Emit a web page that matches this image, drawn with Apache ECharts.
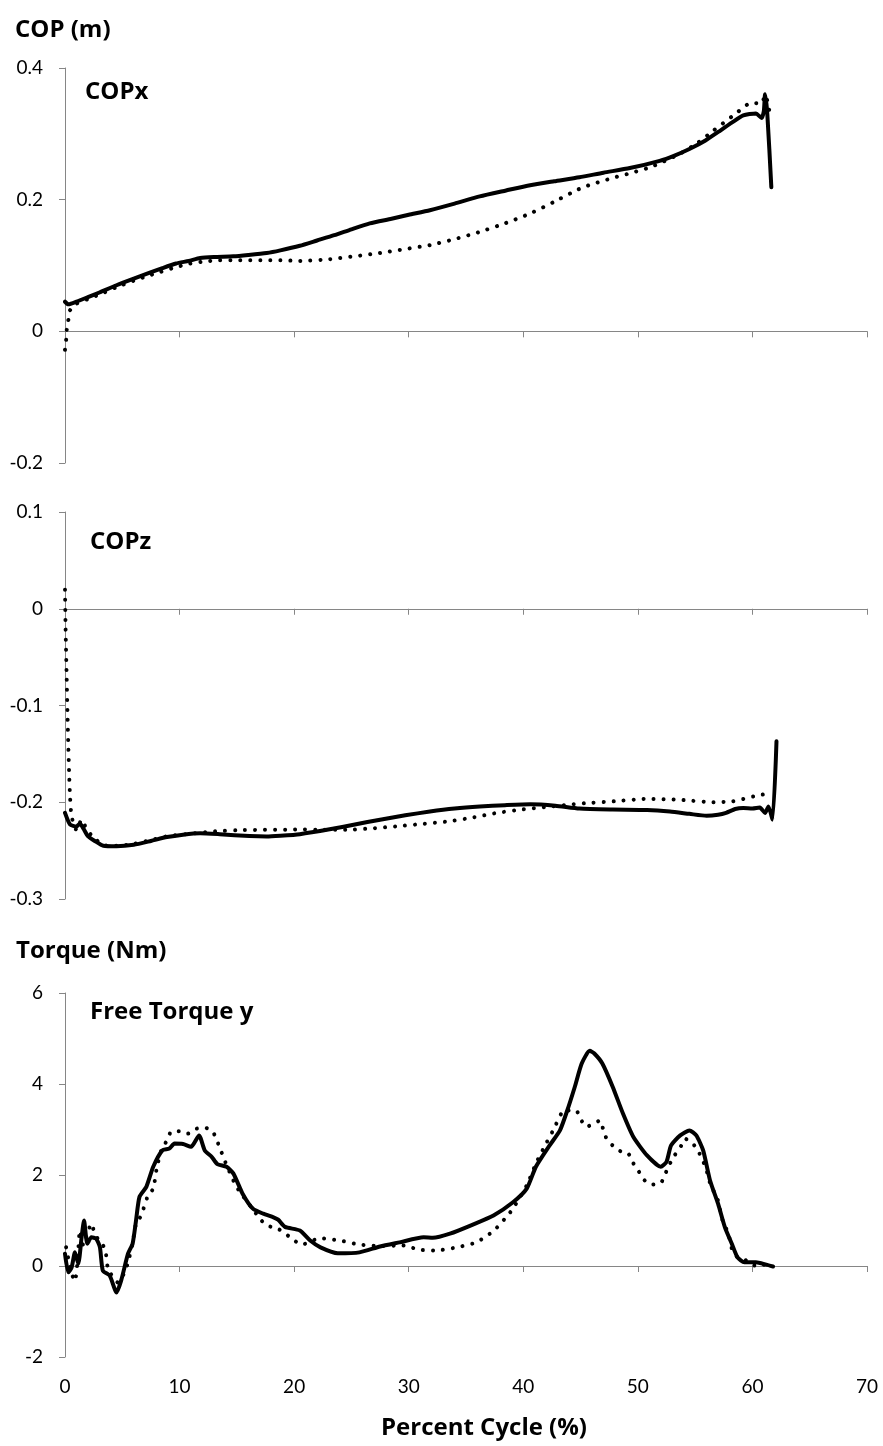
<!DOCTYPE html>
<html>
<head>
<meta charset="utf-8">
<script src="https://cdn.jsdelivr.net/npm/echarts@6/dist/echarts.min.js"></script>
<style>
  html, body { margin: 0; padding: 0; background: #fff; }
  #chart { width: 883px; height: 1446px; }
</style>
</head>
<body>
<div id="chart"></div>
<script>
// Axis ticks
const percentTicks = [0, 10, 20, 30, 40, 50, 60, 70];
const copxTicks = [-0.2, 0, 0.2, 0.4];
const copzTicks = [-0.3, -0.2, -0.1, 0, 0.1];
const torqueTicks = [-2, 0, 2, 4, 6];

// Text
const copTitle = 'COP (m)';
const torqueTitle = 'Torque (Nm)';
const panelNames = ['COPx', 'COPz', 'Free Torque y'];
const xTitle = 'Percent Cycle (%)';

// COPx [percent cycle, metres]
const copxSolid = [[0,0.045],[0.3,0.041],[1.0,0.045],[2.0,0.052],[3.0,0.059],[4.5,0.070],[6,0.080],[7.4,0.089],[8.5,0.096],[9.7,0.103],[10.8,0.107],[11.8,0.1115],[13,0.113],[14.7,0.114],[16,0.116],[17.6,0.119],[18.8,0.123],[20.5,0.130],[22,0.138],[23.5,0.146],[25,0.155],[26.6,0.164],[28.5,0.171],[30,0.177],[31.85,0.184],[34,0.194],[36.2,0.205],[38.5,0.214],[40.6,0.222],[42.7,0.228],[44.9,0.234],[47,0.241],[49.3,0.248],[51.9,0.259],[53.2,0.267],[54.5,0.277],[55.9,0.290],[57.2,0.305],[58.2,0.317],[59.2,0.328],[60.3,0.331],[60.8,0.324],[61.0,0.335],[61.1,0.36],[61.3,0.33],[61.65,0.219]];
const copxDotted = [[0,-0.028],[0.1,-0.013],[0.15,0.002],[0.29,0.017],[0.44,0.032],[1.0,0.042],[2,0.049],[3,0.056],[4.5,0.067],[6,0.077],[7.2,0.084],[8.3,0.090],[9.6,0.097],[10.9,0.103],[12.2,0.106],[13.5,0.108],[15,0.108],[17.6,0.108],[18.8,0.108],[20.5,0.107],[23.1,0.1095],[25.3,0.114],[27.5,0.119],[29.7,0.125],[31.85,0.131],[34,0.140],[36.2,0.151],[38.4,0.164],[40.6,0.179],[42.6,0.196],[44.6,0.214],[45.4,0.220],[47.8,0.233],[49.5,0.241],[51.2,0.250],[53.7,0.270],[55.2,0.286],[56.6,0.305],[58.5,0.330],[59.9,0.347],[60.8,0.346],[61.1,0.359],[61.3,0.35],[61.6,0.323]];

// COPz [percent cycle, metres]
const copzSolid = [[0,-0.211],[0.44,-0.223],[1.0,-0.225],[1.3,-0.222],[1.6,-0.227],[2.0,-0.235],[2.6,-0.240],[3.35,-0.245],[4.5,-0.2455],[6.0,-0.244],[7.5,-0.240],[8.9,-0.236],[10.3,-0.2335],[11.8,-0.232],[13.5,-0.233],[16.1,-0.235],[17.6,-0.2355],[18.8,-0.2347],[20.5,-0.233],[23.1,-0.228],[25.3,-0.223],[27.5,-0.218],[29.7,-0.2135],[31.85,-0.2096],[34,-0.2065],[36.2,-0.2044],[38.4,-0.203],[40.6,-0.202],[42.8,-0.2035],[44.9,-0.2065],[47.8,-0.2075],[50.8,-0.208],[52.8,-0.2096],[54.5,-0.212],[56.0,-0.214],[57.0,-0.213],[57.7,-0.211],[58.5,-0.207],[59.2,-0.206],[60.0,-0.2065],[60.65,-0.2055],[61.1,-0.211],[61.4,-0.2044],[61.75,-0.218],[62.1,-0.137]];
const copzDotted = [[0,0.0196],[0.05,-0.02],[0.15,-0.073],[0.22,-0.11],[0.29,-0.142],[0.36,-0.17],[0.44,-0.194],[0.58,-0.215],[1.02,-0.229],[1.45,-0.218],[1.9,-0.228],[2.3,-0.234],[3.3,-0.244],[4.5,-0.245],[6,-0.243],[7.5,-0.239],[9,-0.235],[11,-0.2325],[13.2,-0.230],[15,-0.229],[17,-0.2285],[19.3,-0.2285],[20.5,-0.228],[22,-0.2285],[24.6,-0.2285],[26.8,-0.227],[28.9,-0.225],[31.1,-0.2225],[33.3,-0.220],[35.5,-0.216],[37.7,-0.211],[39.9,-0.2075],[42.0,-0.205],[44.4,-0.202],[45.4,-0.201],[48,-0.199],[50.8,-0.1965],[53.7,-0.1975],[56.6,-0.200],[58.3,-0.199],[60.1,-0.194],[61.5,-0.1906]];

// Free torque y [percent cycle, Nm]
const torqueSolid = [[0,0.27],[0.29,-0.14],[0.58,-0.03],[0.87,0.30],[1.16,0.05],[1.45,0.63],[1.66,1.0],[1.95,0.49],[2.3,0.63],[2.72,0.60],[3.05,0.41],[3.3,-0.10],[3.9,-0.21],[4.5,-0.58],[4.9,-0.32],[5.5,0.27],[5.9,0.49],[6.2,1.0],[6.5,1.52],[7.1,1.74],[7.7,2.18],[8.5,2.54],[9.1,2.58],[9.55,2.69],[10.3,2.68],[11.0,2.62],[11.7,2.87],[12.2,2.54],[12.8,2.40],[13.3,2.24],[14.1,2.18],[14.7,2.03],[15.5,1.59],[16.4,1.26],[17.3,1.15],[18.2,1.07],[18.6,1.02],[19.2,0.86],[20.5,0.78],[21.4,0.56],[22.3,0.41],[23.8,0.28],[25.7,0.30],[27.5,0.43],[29.2,0.52],[31.3,0.63],[32.1,0.62],[33.6,0.71],[35.6,0.91],[37.4,1.11],[39.1,1.40],[40.3,1.70],[41.1,2.18],[42.3,2.65],[43.2,2.98],[43.8,3.39],[44.5,3.94],[45.1,4.45],[45.8,4.73],[46.2,4.67],[46.9,4.45],[47.8,3.94],[48.7,3.35],[49.6,2.84],[50.8,2.43],[52.0,2.18],[52.5,2.29],[52.9,2.65],[53.7,2.87],[54.5,2.98],[55.1,2.87],[55.7,2.54],[56.3,1.88],[57.0,1.37],[57.6,0.85],[58.2,0.49],[58.7,0.19],[59.3,0.08],[60.3,0.08],[61.2,0.03],[61.8,-0.01]];
const torqueDotted = [[0.1,0.41],[0.3,0.15],[0.58,-0.17],[0.87,-0.33],[1.1,0.12],[1.3,0.78],[1.6,0.45],[1.85,0.63],[2.3,0.93],[2.6,0.71],[3.0,0.55],[3.5,0.38],[3.75,-0.06],[4.2,-0.25],[4.6,-0.36],[5.2,-0.14],[5.5,0.08],[5.9,0.5],[6.2,0.93],[6.65,1.11],[7.2,1.52],[7.7,1.70],[8.0,2.14],[8.4,2.54],[8.9,2.76],[9.3,2.96],[10.0,2.96],[10.75,2.91],[11.5,3.02],[12.2,3.04],[12.9,2.95],[13.3,2.73],[13.6,2.54],[13.9,2.34],[14.9,1.77],[15.5,1.55],[16.6,1.18],[17.0,1.04],[17.6,0.89],[18.5,0.83],[19.2,0.72],[19.9,0.58],[20.65,0.47],[22.25,0.61],[24.0,0.56],[25.7,0.47],[27.5,0.44],[29.2,0.45],[29.9,0.44],[30.8,0.36],[32.4,0.34],[34.2,0.41],[35.9,0.52],[37.4,0.77],[38.5,1.07],[39.1,1.26],[40.3,1.77],[41.1,2.25],[41.8,2.60],[42.6,2.98],[43.4,3.39],[43.6,3.42],[44.6,3.42],[45.0,3.23],[45.5,3.06],[46.2,3.13],[46.7,3.2],[47.0,2.98],[47.3,2.78],[47.8,2.65],[48.5,2.52],[49.2,2.46],[49.6,2.26],[50.1,2.07],[50.6,1.88],[51.3,1.79],[52.0,1.82],[52.4,2.03],[52.8,2.25],[53.2,2.43],[53.7,2.60],[54.1,2.80],[54.7,2.71],[55.2,2.56],[55.9,2.18],[56.4,1.74],[56.9,1.52],[57.4,1.00],[57.9,0.71],[58.3,0.30],[58.9,0.16],[59.5,0.12],[60.2,0.01],[60.9,0.03],[61.65,-0.01]];

const FONT = 'Lato, "Open Sans", sans-serif';
const TITLE_FONT = 'bold 24px "Open Sans", Lato, sans-serif';
const AXIS_COLOR = '#868686';
const stepOf = t => +(t[1] - t[0]).toFixed(6);

const grids = [
  { left: 65, width: 802, top: 68, height: 395 },
  { left: 65, width: 802, top: 512, height: 387 },
  { left: 65, width: 802, top: 993, height: 364 }
];

function lineXAxis(gridIndex) {
  return {
    type: 'value', gridIndex,
    min: percentTicks[0], max: percentTicks[percentTicks.length - 1], interval: stepOf(percentTicks),
    axisLine: { show: true, onZero: true, lineStyle: { color: AXIS_COLOR, width: 1 } },
    axisTick: { show: true, length: 6, lineStyle: { color: AXIS_COLOR } },
    axisLabel: { show: false },
    splitLine: { show: false }
  };
}

function yAxisFor(gridIndex, ticks) {
  return {
    type: 'value', gridIndex,
    min: ticks[0], max: ticks[ticks.length - 1], interval: stepOf(ticks),
    axisLine: { show: true, lineStyle: { color: AXIS_COLOR, width: 1 } },
    axisTick: { show: true, length: 6, lineStyle: { color: AXIS_COLOR } },
    axisLabel: {
      margin: 22, color: '#000', fontFamily: FONT, fontSize: 19,
      formatter: v => String(+v.toFixed(4))
    },
    splitLine: { show: false }
  };
}

const solidStyle = { color: '#000', width: 4, cap: 'round', join: 'round' };
const dottedStyle = { color: '#000', width: 4, type: [0.01, 10], cap: 'round', join: 'round' };

function line(data, xi, yi, style) {
  return {
    type: 'line', data, xAxisIndex: xi, yAxisIndex: yi,
    showSymbol: false, symbol: 'none', smooth: 0.2,
    lineStyle: style, animation: false, silent: true
  };
}

function label(text, x, y, align) {
  return {
    type: 'text', x, y, silent: true,
    style: { text, font: TITLE_FONT, fill: '#000', textAlign: align || 'left', textVerticalAlign: 'middle' }
  };
}

const option = {
  backgroundColor: '#fff',
  animation: false,
  grid: grids,
  xAxis: [
    lineXAxis(0),
    lineXAxis(1),
    lineXAxis(2),
    {
      type: 'value', gridIndex: 2, position: 'bottom',
      min: percentTicks[0], max: percentTicks[percentTicks.length - 1], interval: stepOf(percentTicks),
      axisLine: { show: false, onZero: false },
      axisTick: { show: false },
      axisLabel: { show: true, margin: 20, color: '#000', fontFamily: FONT, fontSize: 19 },
      splitLine: { show: false }
    }
  ],
  yAxis: [
    yAxisFor(0, copxTicks),
    yAxisFor(1, copzTicks),
    yAxisFor(2, torqueTicks)
  ],
  series: [
    line(copxSolid, 0, 0, solidStyle),
    line(copxDotted, 0, 0, dottedStyle),
    line(copzSolid, 1, 1, solidStyle),
    line(copzDotted, 1, 1, dottedStyle),
    line(torqueSolid, 2, 2, solidStyle),
    line(torqueDotted, 2, 2, dottedStyle)
  ],
  graphic: [
    label(copTitle, 15, 30),
    label(panelNames[0], 85, 92),
    label(panelNames[1], 90, 542),
    label(torqueTitle, 16, 951),
    label(panelNames[2], 90, 1012),
    label(xTitle, 484, 1428, 'center')
  ]
};

const chart = echarts.init(document.getElementById('chart'), null, { renderer: 'canvas' });
chart.setOption(option);
</script>
</body>
</html>
